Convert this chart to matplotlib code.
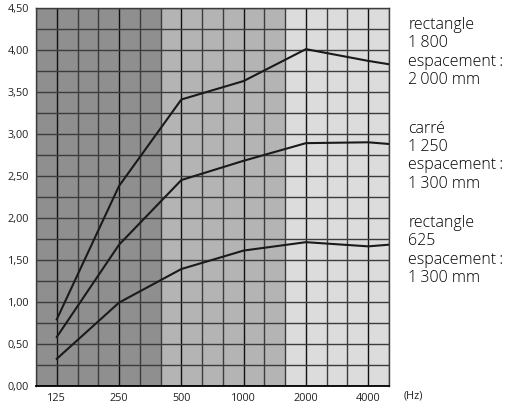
import matplotlib
matplotlib.use("Agg")
import matplotlib.pyplot as plt
from matplotlib.ticker import FixedLocator

plt.rcParams['font.family'] = ['Open Sans', 'DejaVu Sans']

# third-octave bands shown on the x axis
bands = [100, 125, 160, 200, 250, 315, 400, 500, 630, 800,
         1000, 1250, 1600, 2000, 2500, 3150, 4000, 5000]
octaves = [125, 250, 500, 1000, 2000, 4000]
freqs = [125, 250, 500, 1000, 2000, 4000, 5000]

rect_1800 = [0.79, 2.38, 3.41, 3.63, 4.01, 3.87, 3.83]
carre_1250 = [0.58, 1.68, 2.45, 2.68, 2.89, 2.90, 2.88]
rect_625 = [0.32, 0.99, 1.39, 1.61, 1.71, 1.66, 1.68]

labels = [
    "rectangle\n1\u2009800\nespacement\u2009:\n2\u2009000 mm",
    "carré\n1\u2009250\nespacement\u2009:\n1\u2009300 mm",
    "rectangle\n625\nespacement\u2009:\n1\u2009300 mm",
]

# shaded zones (band limits)
zones = [(100, 400, '#8f8f8f'), (400, 1600, '#b4b4b4'), (1600, 5000, '#dcdcdc')]


def pos(f):
    return bands.index(f)


fig = plt.figure(figsize=(5.15, 4.05), dpi=100)
ax = fig.add_axes([0.0699, 0.0477, 0.6854, 0.9325])

for lo, hi, col in zones:
    ax.axvspan(pos(lo), pos(hi), color=col, lw=0, zorder=0)

x = [pos(f) for f in freqs]
for vals in (rect_1800, carre_1250, rect_625):
    ax.plot(x, vals, color='#1a1a1a', lw=1.5, zorder=3)

ax.set_xlim(0, len(bands) - 1)
ax.set_ylim(0, 4.5)

ax.xaxis.set_major_locator(FixedLocator([pos(f) for f in octaves]))
ax.xaxis.set_minor_locator(FixedLocator([i for i, f in enumerate(bands) if f not in octaves]))
ax.set_xticklabels([str(f) for f in octaves])

yt = [i * 0.5 for i in range(10)]
ax.yaxis.set_major_locator(FixedLocator(yt))
ax.yaxis.set_minor_locator(FixedLocator([i * 0.25 for i in range(19)]))
ax.set_yticklabels([f"{v:.2f}".replace('.', ',') for v in yt])

ax.grid(True, which='major', axis='x', color='#111111', lw=1.0, zorder=1)
ax.grid(True, which='minor', axis='x', color='#3c3c3c', lw=1.0, zorder=1)
ax.grid(True, which='both', axis='y', color='#3c3c3c', lw=1.0, zorder=1)
ax.set_axisbelow(True)

ax.tick_params(which='both', length=0, labelsize=7.8, colors='#222222')
ax.tick_params(axis='x', pad=5)
ax.tick_params(axis='y', pad=5)

for s in ax.spines.values():
    s.set_color('#3c3c3c')
    s.set_linewidth(1.0)
ax.spines['bottom'].set_color('#000000')
ax.spines['bottom'].set_linewidth(1.3)

fig.text(0.783, 0.021, "(Hz)", fontsize=7.8, color='#222222', va='center')

tops = [0.958, 0.702, 0.469]
for t, lab in zip(tops, labels):
    fig.text(0.793, t, lab, fontsize=11.5, color='#000000', va='top',
             linespacing=1.2, fontweight='light')

fig.savefig("out.png", dpi=100)
